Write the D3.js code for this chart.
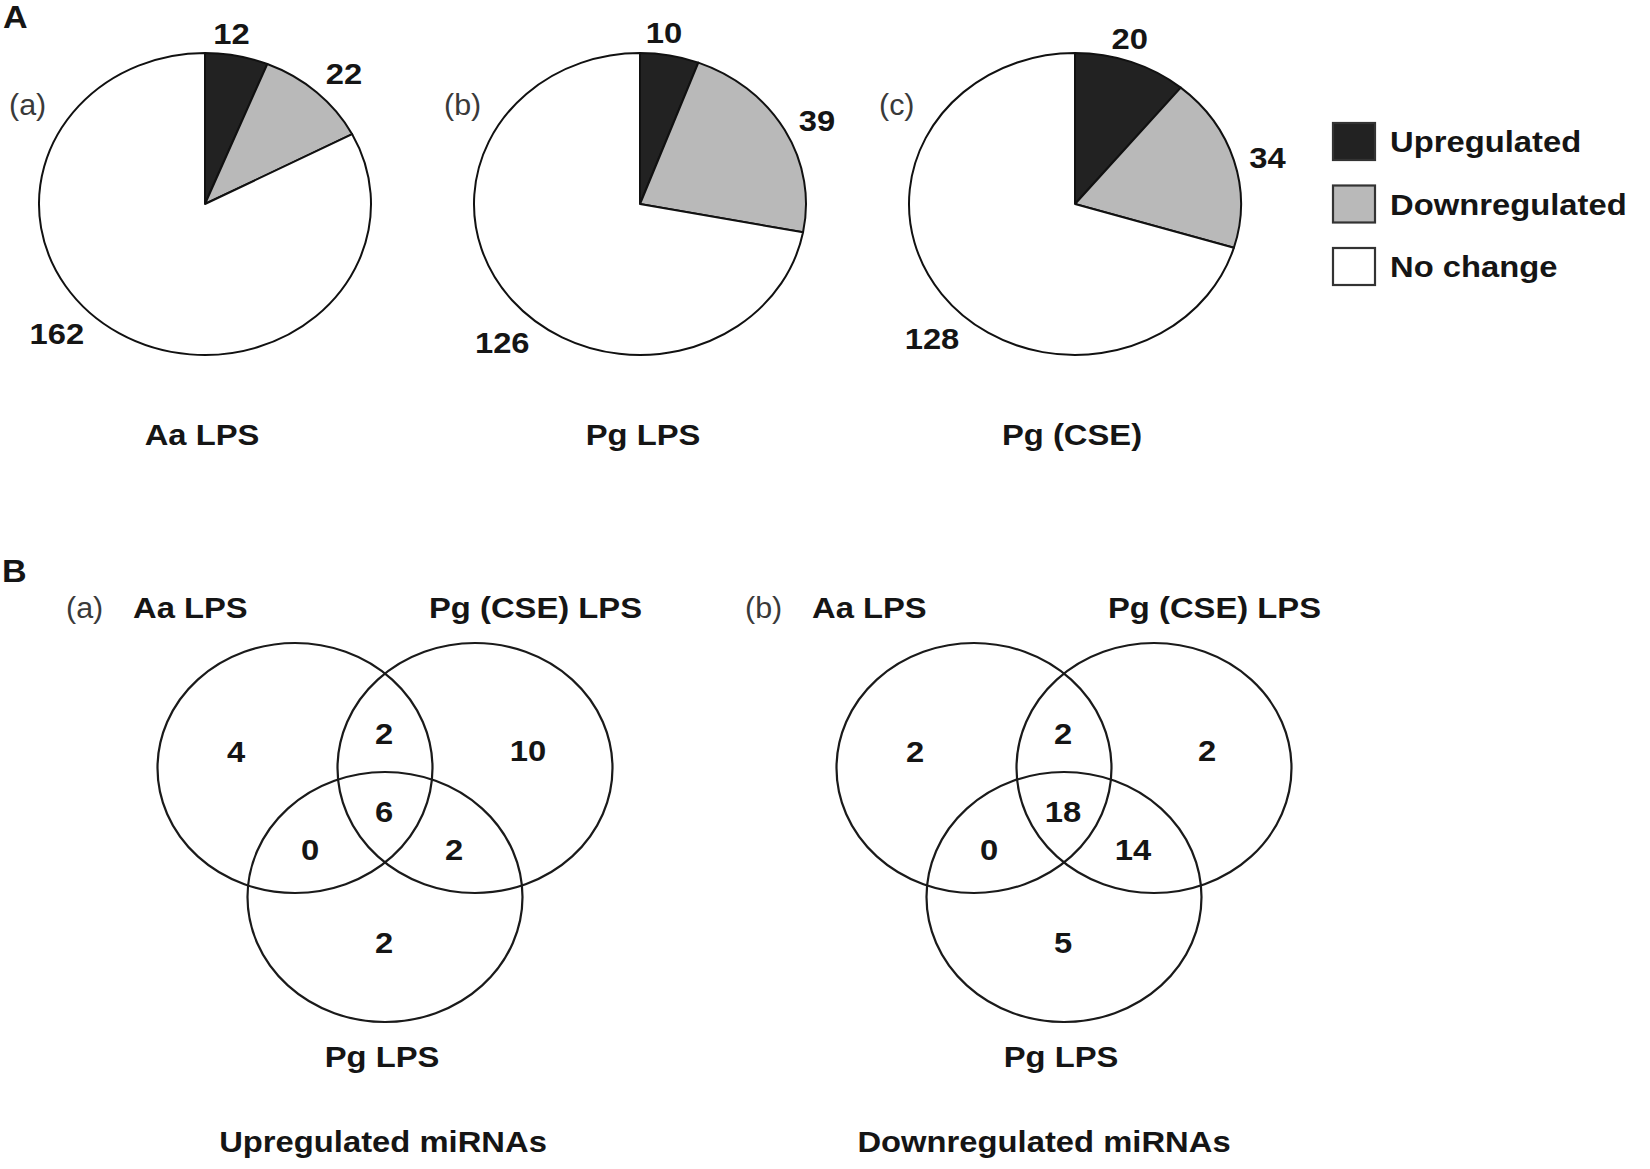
<!DOCTYPE html>
<html>
<head>
<meta charset="utf-8">
<script src="https://cdn.jsdelivr.net/npm/d3@7"></script>
<style>
  html, body { margin: 0; padding: 0; background: #fff; }
  svg { display: block; }
  text { font-family: "Liberation Sans", Arial, Helvetica, sans-serif; }
</style>
</head>
<body>
<svg id="chart" width="1650" height="1169"></svg>
<script>
// ---------------- DATA ----------------
const pieNames = ["Aa LPS", "Pg LPS", "Pg (CSE)"];
const pieTags = ["(a)", "(b)", "(c)"];
const categories = ["Upregulated", "Downregulated", "No change"];
const upregulated = [12, 10, 20];
const downregulated = [22, 39, 34];
const noChange = [162, 126, 128];

const vennTags = ["(a)", "(b)"];
const vennSets = ["Aa LPS", "Pg (CSE) LPS", "Pg LPS"];
const vennRegions = ["Aa only", "Aa & Pg(CSE)", "Pg(CSE) only", "All three", "Aa & Pg", "Pg & Pg(CSE)", "Pg only"];
const vennUp = [4, 2, 10, 6, 0, 2, 2];
const vennDown = [2, 2, 2, 18, 0, 14, 5];
const vennTitles = ["Upregulated miRNAs", "Downregulated miRNAs"];

// ---------------- LAYOUT / STYLE ----------------
const SX = 1.13;                // horizontal stretch of the original figure
const FONT = 29;
const colors = d3.scaleOrdinal().domain(categories).range(["#222222", "#b9b9b9", "#ffffff"]);

const svg = d3.select("#chart");

function label(g, x, y, str, o = {}) {
  return g.append("text")
    .attr("transform", `translate(${x},${y}) scale(${o.sx || SX},1)`)
    .attr("text-anchor", o.anchor || "middle")
    .attr("font-size", o.size || FONT)
    .attr("font-weight", o.weight || "bold")
    .attr("fill", o.fill || "#151515")
    .text(str);
}

// Panel letters
label(svg, 3, 28, "A", { anchor: "start", size: 31, sx: 1.1 });
label(svg, 2, 582, "B", { anchor: "start", size: 31, sx: 1.1 });

// ---------------- PIES ----------------
const pieX = d3.scalePoint().domain(pieNames).range([205, 1075]);
const pieCY = 204, RX = 166, RY = 151;
const pieGen = d3.pie().sort(null).value(d => d);
const arcGen = d3.arc().innerRadius(0).outerRadius(RX);
const noChangeAngle = [226, 222, 224];   // label placement (degrees, clockwise from top)
const titleShift = [-3, 3, -3];

pieNames.forEach((name, i) => {
  const cx = pieX(name);
  const vals = [upregulated[i], downregulated[i], noChange[i]];
  const arcs = pieGen(vals);
  const g = svg.append("g").attr("transform", `translate(${cx},${pieCY}) scale(1,${RY / RX})`);
  g.selectAll("path").data(arcs).join("path")
    .attr("d", arcGen)
    .attr("fill", (d, j) => colors(categories[j]))
    .attr("stroke", "#111")
    .attr("stroke-width", 2)
    .attr("vector-effect", "non-scaling-stroke")
    .attr("stroke-linejoin", "round");

  const pos = (theta, r) => [cx + Math.sin(theta) * RX * r, pieCY - Math.cos(theta) * RY * r];
  const deg = Math.PI / 180;
  // up label
  {
    const mid = (arcs[0].startAngle + arcs[0].endAngle) / 2 - 3 * deg;
    const [x, y] = pos(mid, 1.14);
    label(svg, x, y + 10, String(vals[0]));
  }
  // down label
  {
    const mid = (arcs[1].startAngle + arcs[1].endAngle) / 2 + 2 * deg;
    const [x, y] = pos(mid, 1.2);
    label(svg, x, y + 10, String(vals[1]));
  }
  // no-change label placed lower-left
  const [nx, ny] = pos(noChangeAngle[i] * deg, 1.24);
  label(svg, nx, ny + 10, String(vals[2]));
  // tag
  label(svg, cx - 196, pieCY - 89, pieTags[i], { anchor: "start", weight: "normal", fill: "#3a3a3a", sx: 1.05 });
  // title
  label(svg, cx + titleShift[i], 445, name);
});

// Legend
const legX = 1333, legY0 = 123, legStep = 62.5;
const leg = svg.append("g");
categories.forEach((c, j) => {
  leg.append("rect")
    .attr("x", legX).attr("y", legY0 + j * legStep)
    .attr("width", 42).attr("height", 37)
    .attr("fill", colors(c)).attr("stroke", "#333").attr("stroke-width", 2.2);
  label(leg, legX + 57, legY0 + j * legStep + 29, c, { anchor: "start" });
});

// ---------------- VENN DIAGRAMS ----------------
const vennX = d3.scalePoint().domain(vennTitles).range([385, 1064]);
const vennCY = 768, VRX = 137.5, VRY = 125;
// circle centres relative to venn origin
const circleOffsets = [[-90, 0], [90, 0], [0, 129]];
// label centres relative to venn origin (layout)
const regionOffsets = [[-149, -16], [-1, -34], [143, -17], [-1, 44], [-75, 82], [69, 82], [-1, 175]];
const footShift = [-2, -20];

vennTitles.forEach((title, k) => {
  const ox = vennX(title);
  const vals = k === 0 ? vennUp : vennDown;
  const g = svg.append("g");
  g.selectAll("ellipse").data(vennSets).join("ellipse")
    .attr("cx", (d, j) => ox + circleOffsets[j][0])
    .attr("cy", (d, j) => vennCY + circleOffsets[j][1])
    .attr("rx", VRX).attr("ry", VRY)
    .attr("fill", "none").attr("stroke", "#1a1a1a").attr("stroke-width", 2.2);

  vals.forEach((v, r) => {
    label(g, ox + regionOffsets[r][0], vennCY + regionOffsets[r][1] + 10, String(v));
  });

  // set names
  label(g, ox - 319, 618, vennTags[k], { anchor: "start", weight: "normal", fill: "#3a3a3a", sx: 1.05 });
  label(g, ox - 252, 618, vennSets[0], { anchor: "start" });
  label(g, ox + 44, 618, vennSets[1], { anchor: "start" });
  label(g, ox - 3, 1067, vennSets[2]);
  label(g, ox + footShift[k], 1152, title);
});
</script>
</body>
</html>
